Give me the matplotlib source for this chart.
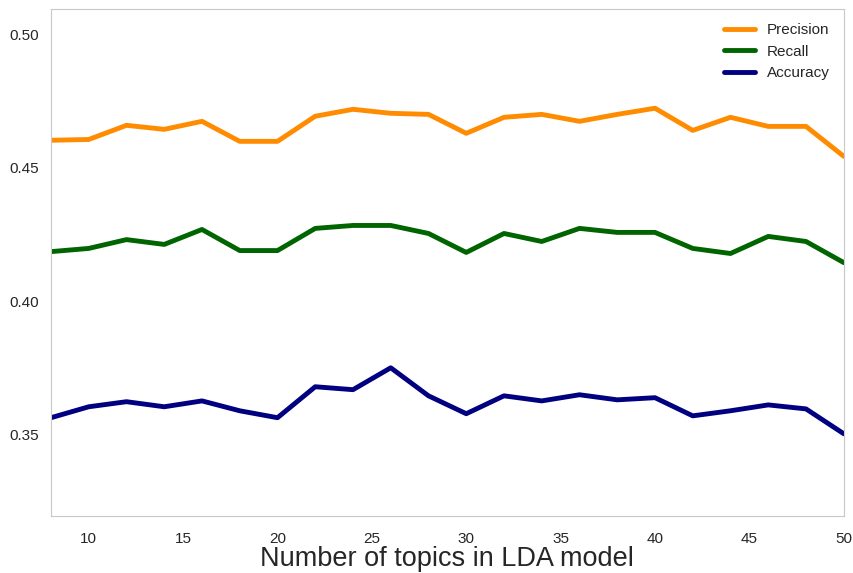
import numpy as np
import matplotlib
matplotlib.use("Agg")
import matplotlib.pyplot as plt
import seaborn as sns

topics = list(range(8, 51, 2))
precision = [0.4603, 0.4606, 0.4659, 0.4644, 0.4674, 0.4599, 0.4599, 0.4693,
             0.4719, 0.4704, 0.4700, 0.4629, 0.4689, 0.4700, 0.4674, 0.4700,
             0.4723, 0.4640, 0.4689, 0.4655, 0.4655, 0.4543]
recall = [0.4186, 0.4198, 0.4231, 0.4213, 0.4269, 0.4190, 0.4190, 0.4273,
          0.4284, 0.4284, 0.4254, 0.4183, 0.4254, 0.4224, 0.4273, 0.4258,
          0.4258, 0.4198, 0.4179, 0.4243, 0.4224, 0.4145]
accuracy = [0.3564, 0.3605, 0.3624, 0.3605, 0.3627, 0.3590, 0.3564, 0.3680,
            0.3669, 0.3751, 0.3646, 0.3579, 0.3646, 0.3627, 0.3650, 0.3631,
            0.3639, 0.3571, 0.3590, 0.3612, 0.3597, 0.3504]

sns.set_style("white")
plt.rcParams['font.family'] = ['Liberation Sans', 'DejaVu Sans']

fig = plt.figure(figsize=(8.54, 5.73), dpi=100)
ax = fig.add_axes([0.0597, 0.0995, 0.9283, 0.8845])

ax.plot(topics, precision, color='darkorange', linewidth=3.5, label='Precision')
ax.plot(topics, recall, color='darkgreen', linewidth=3.5, label='Recall')
ax.plot(topics, accuracy, color='navy', linewidth=3.5, label='Accuracy')

ax.set_xlim(8, 50)
ax.set_ylim(0.3196, 0.5094)
ax.set_xticks([10, 15, 20, 25, 30, 35, 40, 45, 50])
ax.set_yticks([0.35, 0.40, 0.45, 0.50])
ax.set_yticklabels(['0.35', '0.40', '0.45', '0.50'])
ax.tick_params(labelsize=11, colors='.15')
ax.tick_params(axis='x', pad=8)
ax.tick_params(axis='y', pad=5)
for s in ax.spines.values():
    s.set_color('#c8c8c8')
ax.set_xlabel('Number of topics in LDA model', fontsize=19.5, color='.15', labelpad=0)
ax.legend(loc='upper right', frameon=False, fontsize=11)

fig.savefig('out.png', dpi=100)
